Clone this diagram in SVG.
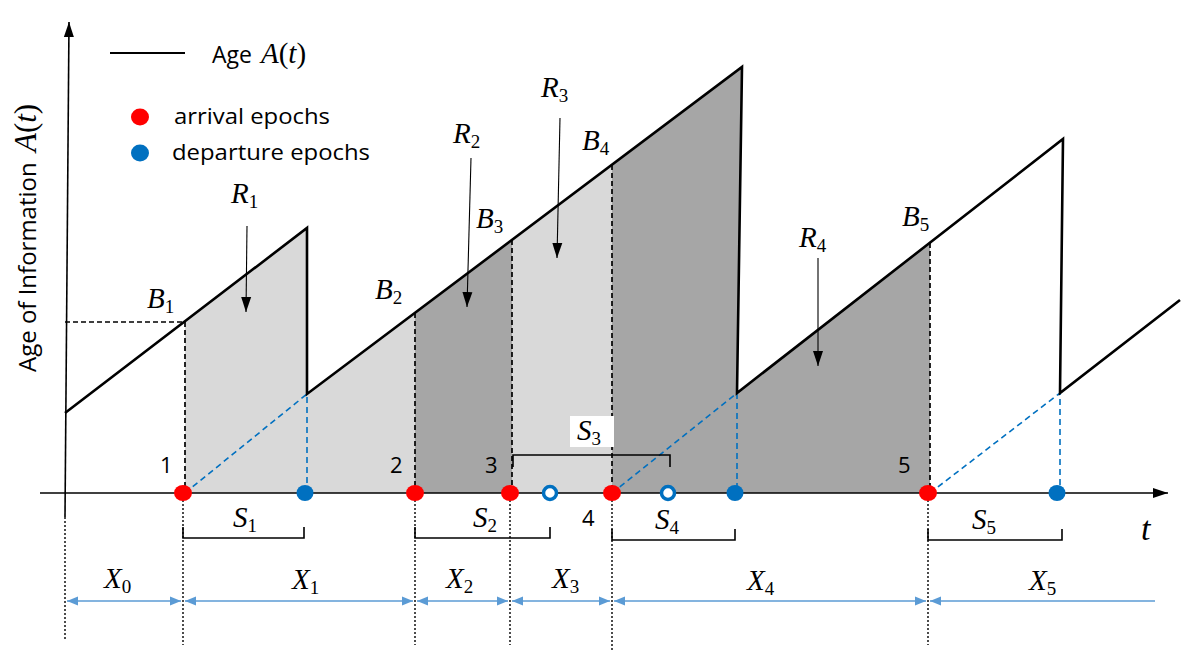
<svg xmlns="http://www.w3.org/2000/svg" width="1196" height="654" viewBox="0 0 1196 654">
<style>
.saw{fill:none;stroke:#000;stroke-width:2.6;stroke-linejoin:miter}
.ax{fill:none;stroke:#000;stroke-width:1.6}
.kd{fill:none;stroke:#000;stroke-width:1.7;stroke-dasharray:5,3}
.bd{fill:none;stroke:#0070c0;stroke-width:1.6;stroke-dasharray:6,4}
.dot{fill:none;stroke:#000;stroke-width:1.4;stroke-dasharray:2,2}
.br{fill:none;stroke:#000;stroke-width:1.6}
.xa{fill:none;stroke:#5b9bd5;stroke-width:1.6}
.ra{fill:none;stroke:#000;stroke-width:1.1}
.lg{fill:#d9d9d9}
.dg{fill:#a6a6a6}
.arr{fill:#ff0000}
.dep{fill:#0070c0}
.hol{fill:#fff;stroke:#0070c0;stroke-width:3.5}
.m{font-family:"Liberation Serif","DejaVu Serif",serif;font-style:italic;font-size:29px;fill:#000}
.sub{font-style:normal;font-size:19px}
.up{font-style:normal}
.s{font-family:"Open Sans","Liberation Sans",sans-serif;font-size:22px;fill:#000}
</style>
<defs>
<marker id="ba" markerUnits="userSpaceOnUse" markerWidth="12" markerHeight="12" viewBox="0 0 12 12" refX="11" refY="6" orient="auto-start-reverse">
<path d="M0,1.5 L11,6 L0,10.5 Z" fill="#5b9bd5"/>
</marker>
<marker id="ka" markerUnits="userSpaceOnUse" markerWidth="16" markerHeight="12" viewBox="0 0 16 12" refX="15" refY="6" orient="auto">
<path d="M0,1 L15,6 L0,11 Z" fill="#000"/>
</marker>
</defs>

<g id="fills">
<path class="lg" d="M185,493 L185,322 L307,228 L307,394 L415,313 L415,493 Z"/>
<path class="dg" d="M415,493 L415,313 L512,240 L512,493 Z"/>
<path class="lg" d="M512,493 L512,240 L612,165 L612,493 Z"/>
<path class="dg" d="M612,493 L612,165 L742,67 L737,393 L930,243 L930,493 Z"/>
</g>

<g id="axes">
<path class="ax" d="M65,517 L69,22" marker-end="url(#ka)"/>
<path class="ax" d="M40,493 L1168,493" marker-end="url(#ka)"/>
<text class="m" x="1141" y="540" style="font-size:34px">t</text>
<text class="s" transform="translate(36,372) rotate(-90)" style="font-size:24px">Age of Information <tspan class="m" dx="4" style="font-size:31px">A<tspan class="up">(</tspan>t<tspan class="up">)</tspan></tspan></text>
</g>

<g id="legend">
<line x1="110" y1="53" x2="185" y2="53" stroke="#000" stroke-width="2"/>
<text class="s" x="212" y="63" style="font-size:23px">Age <tspan class="m" dx="3">A<tspan class="up">(</tspan>t<tspan class="up">)</tspan></tspan></text>
<ellipse class="arr" cx="140" cy="117" rx="9" ry="8.5"/>
<text class="s" x="174" y="124" textLength="156" lengthAdjust="spacingAndGlyphs">arrival epochs</text>
<ellipse class="dep" cx="140" cy="153" rx="9" ry="8.5"/>
<text class="s" x="172" y="160" textLength="198" lengthAdjust="spacingAndGlyphs">departure epochs</text>
</g>

<g id="guides">
<path class="kd" d="M65,322 L185,322 M185,322 L185,493 M415,313 L415,493 M512,240 L512,493 M612,165 L612,493 M930,243 L930,493"/>
<path class="bd" d="M185,493 L307,394 L307,493 M612,493 L737,393 L737,493 M930,493 L1060,393 L1060,493"/>
<path class="dot" d="M65,517 L65,640 M183,500 L183,645 M415,500 L415,645 M510,500 L510,645 M612,500 L612,650 M928,500 L928,645"/>
</g>

<g id="sawtooth">
<path class="saw" d="M65,413 L307,228 L307,394 L742,67 L737,393 L1063,139 L1060,393 L1180,300"/>
</g>

<g id="connectors">
<line class="ra" x1="247" y1="226" x2="246" y2="312" marker-end="url(#ka)"/>
<line class="ra" x1="471" y1="158" x2="467" y2="307" marker-end="url(#ka)"/>
<line class="ra" x1="560" y1="118" x2="557" y2="258" marker-end="url(#ka)"/>
<line class="ra" x1="818" y1="258" x2="818" y2="366" marker-end="url(#ka)"/>
<line class="xa" x1="67" y1="601" x2="181" y2="601" marker-start="url(#ba)" marker-end="url(#ba)"/>
<line class="xa" x1="185" y1="601" x2="413" y2="601" marker-start="url(#ba)" marker-end="url(#ba)"/>
<line class="xa" x1="417" y1="601" x2="508" y2="601" marker-start="url(#ba)" marker-end="url(#ba)"/>
<line class="xa" x1="512" y1="601" x2="610" y2="601" marker-start="url(#ba)" marker-end="url(#ba)"/>
<line class="xa" x1="614" y1="601" x2="926" y2="601" marker-start="url(#ba)" marker-end="url(#ba)"/>
<line class="xa" x1="930" y1="601" x2="1155" y2="601" marker-start="url(#ba)"/>
</g>

<g id="brackets">
<path class="br" d="M183,527 L183,538 L304,538 L304,527"/>
<path class="br" d="M415,527 L415,538 L550,538 L550,527"/>
<path class="br" d="M513,467 L513,455 L670,455 L670,467"/>
<path class="br" d="M612,529 L612,540 L735,540 L735,529"/>
<path class="br" d="M928,529 L928,540 L1062,540 L1062,529"/>
<rect x="570" y="416" width="44" height="31" fill="#fff"/>
</g>

<g id="points">
<ellipse class="arr" cx="183" cy="493" rx="9" ry="8"/>
<ellipse class="arr" cx="415" cy="493" rx="9" ry="8"/>
<ellipse class="arr" cx="510" cy="493" rx="9" ry="8"/>
<ellipse class="arr" cx="612" cy="493" rx="9" ry="8"/>
<ellipse class="arr" cx="928" cy="493" rx="9" ry="8"/>
<ellipse class="dep" cx="305" cy="493" rx="8.5" ry="8"/>
<ellipse class="dep" cx="735" cy="493" rx="8.5" ry="8"/>
<ellipse class="dep" cx="1057" cy="493" rx="8.5" ry="8"/>
<circle class="hol" cx="550" cy="493" r="6.5"/>
<circle class="hol" cx="668" cy="493" r="6.5"/>
</g>

<g id="labels">
<text class="s" x="160" y="473">1</text>
<text class="s" x="390" y="473">2</text>
<text class="s" x="485" y="473">3</text>
<text class="s" x="582" y="526">4</text>
<text class="s" x="898" y="473">5</text>
<text class="m" x="147" y="308">B<tspan class="sub" dy="5">1</tspan></text>
<text class="m" x="375" y="299">B<tspan class="sub" dy="5">2</tspan></text>
<text class="m" x="476" y="228">B<tspan class="sub" dy="5">3</tspan></text>
<text class="m" x="582" y="150">B<tspan class="sub" dy="5">4</tspan></text>
<text class="m" x="902" y="226">B<tspan class="sub" dy="5">5</tspan></text>
<text class="m" x="231" y="203">R<tspan class="sub" dy="5">1</tspan></text>
<text class="m" x="453" y="143">R<tspan class="sub" dy="5">2</tspan></text>
<text class="m" x="541" y="97">R<tspan class="sub" dy="5">3</tspan></text>
<text class="m" x="799" y="247">R<tspan class="sub" dy="5">4</tspan></text>
<text class="m" x="233" y="527">S<tspan class="sub" dy="5">1</tspan></text>
<text class="m" x="473" y="527">S<tspan class="sub" dy="5">2</tspan></text>
<text class="m" x="577" y="440">S<tspan class="sub" dy="5">3</tspan></text>
<text class="m" x="655" y="529">S<tspan class="sub" dy="5">4</tspan></text>
<text class="m" x="972" y="529">S<tspan class="sub" dy="5">5</tspan></text>
<text class="m" x="104" y="588">X<tspan class="sub" dy="5">0</tspan></text>
<text class="m" x="292" y="589">X<tspan class="sub" dy="5">1</tspan></text>
<text class="m" x="446" y="588">X<tspan class="sub" dy="5">2</tspan></text>
<text class="m" x="552" y="588">X<tspan class="sub" dy="5">3</tspan></text>
<text class="m" x="747" y="590">X<tspan class="sub" dy="5">4</tspan></text>
<text class="m" x="1029" y="590">X<tspan class="sub" dy="5">5</tspan></text>
</g>
</svg>
